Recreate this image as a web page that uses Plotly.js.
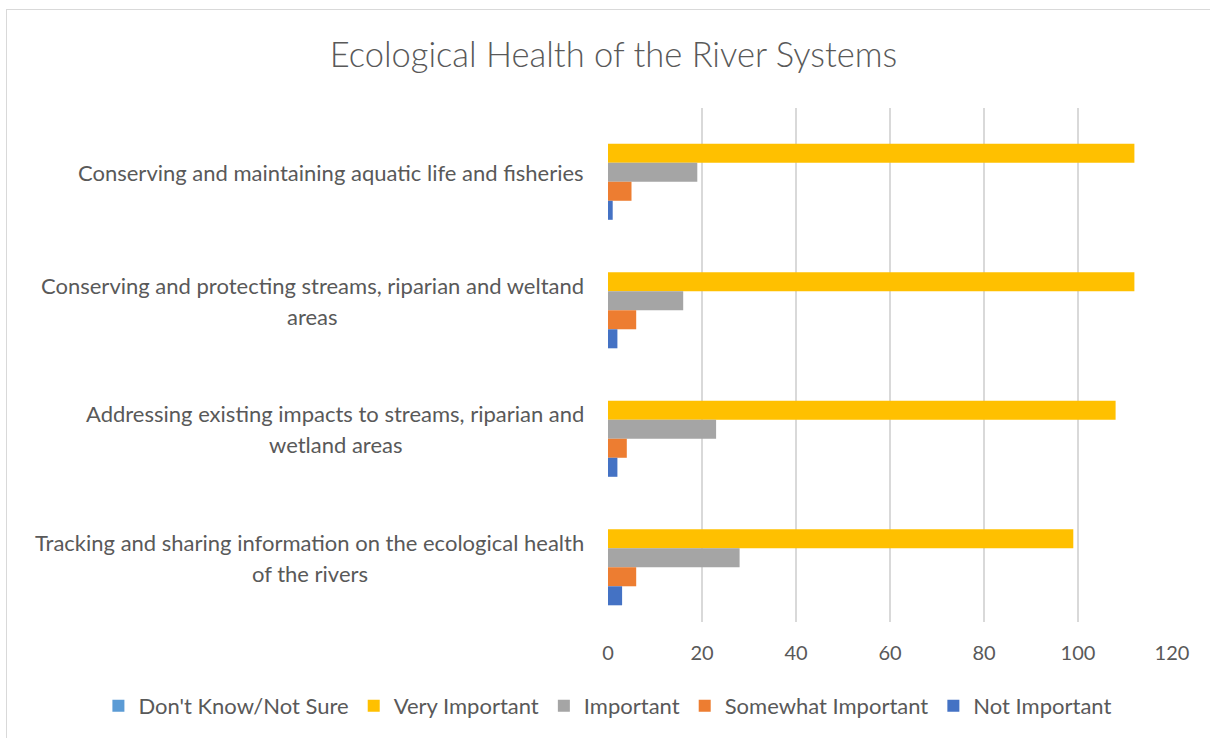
<!DOCTYPE html>
<html>
<head>
<meta charset="utf-8">
<script src="https://cdn.plot.ly/plotly-3.0.1.min.js"></script>
<style>
  html, body { margin: 0; padding: 0; background: #ffffff; overflow: hidden; }
  #chart { position: absolute; left: 0; top: 0; width: 1210px; height: 738px; }
  #frame { position: absolute; left: 6px; top: 9px; width: 1400px; height: 1000px;
           border-top: 1.5px solid #d9d9d9; border-left: 1.5px solid #d9d9d9; pointer-events: none; }
</style>
</head>
<body>
<div id="chart"></div>
<div id="frame"></div>
<script>
// ---- data ----
const categories = [
  "Conserving and maintaining aquatic life and fisheries",
  "Conserving and protecting streams, riparian and weltand areas",
  "Addressing existing impacts to streams, riparian and wetland areas",
  "Tracking and sharing information on the ecological health of the rivers"
];
const categoryLabelLines = [
  ["Conserving and maintaining aquatic life and fisheries"],
  ["Conserving and protecting streams, riparian and weltand", "areas"],
  ["Addressing existing impacts to streams, riparian and", "wetland areas"],
  ["Tracking and sharing information on the ecological health", "of the rivers"]
];
const seriesNames = ["Don't Know/Not Sure", "Very Important", "Important", "Somewhat Important", "Not Important"];
const dontKnow = [0, 0, 0, 0];
const veryImportant = [112, 112, 108, 99];
const important = [19, 16, 23, 28];
const somewhatImportant = [5, 6, 4, 6];
const notImportant = [1, 2, 2, 3];
const xTicks = [0, 20, 40, 60, 80, 100, 120];

// ---- styles ----
const seriesValues = [dontKnow, veryImportant, important, somewhatImportant, notImportant];
const seriesColors = ["#5B9BD5", "#FFC000", "#A5A5A5", "#ED7D31", "#4472C4"];
const FONT = "Lato, 'Open Sans', sans-serif";
const TXT = "#595959";
const LABEL_SIZE = 22;

const traces = seriesNames.map((name, i) => ({
  type: "bar",
  orientation: "h",
  name: name,
  y: categories,
  x: seriesValues[i],
  marker: { color: seriesColors[i], line: { width: 0 } },
  hoverinfo: "x+name"
}));

// measure text so wrapped lines are centred under the longest line (right-aligned block)
const ctx = document.createElement("canvas").getContext("2d");
ctx.font = LABEL_SIZE + "px Lato";
const tw = s => ctx.measureText(s).width;

const annotations = [];
categoryLabelLines.forEach((lines, ci) => {
  const n = lines.length;
  const maxW = Math.max(...lines.map(tw));
  lines.forEach((ln, li) => {
    annotations.push({
      xref: "paper", yref: "y",
      x: 0, y: categories[ci],
      xanchor: "right", yanchor: "middle",
      xshift: -22 - (maxW - tw(ln)) / 2,
      yshift: (n - 1) * 15.5 - li * 31,
      text: ln, showarrow: false, align: "center",
      font: { family: FONT, size: LABEL_SIZE, color: TXT }
    });
  });
});

const layout = {
  width: 1210, height: 738,
  margin: { l: 607.5, r: 38, t: 108, b: 116, autoexpand: false },
  paper_bgcolor: "rgba(0,0,0,0)",
  plot_bgcolor: "rgba(0,0,0,0)",
  font: { family: FONT, color: TXT },
  title: {
    text: "Ecological Health of the River Systems",
    xref: "container", yref: "container",
    x: 0.507, y: 1 - 55 / 738, xanchor: "center", yanchor: "middle",
    font: { family: FONT, size: 34.5, color: TXT, weight: 300 }
  },
  barmode: "group",
  bargap: 0.26,
  bargroupgap: 0,
  xaxis: {
    range: [0, 120],
    tickvals: xTicks,
    ticktext: xTicks.map(String),
    showgrid: true, gridcolor: "#d9d9d9", gridwidth: 1.5,
    zeroline: false, showline: false, ticks: "",
    ticklabelstandoff: 17,
    tickfont: { family: FONT, size: 20, color: TXT },
    automargin: false,
    fixedrange: true
  },
  yaxis: {
    autorange: "reversed",
    showticklabels: false, showgrid: false, zeroline: false, showline: false, ticks: "",
    automargin: false,
    fixedrange: true
  },
  showlegend: true,
  legend: {
    orientation: "h",
    xref: "paper", yref: "paper",
    x: (97 - 607.5) / 565, y: -(706 - 622) / 514, xanchor: "left", yanchor: "middle",
    font: { family: FONT, size: 22, color: TXT },
    traceorder: "normal",
    itemclick: false, itemdoubleclick: false
  },
  annotations: annotations
};

Plotly.newPlot("chart", traces, layout, { displayModeBar: false, staticPlot: true });
</script>
</body>
</html>
